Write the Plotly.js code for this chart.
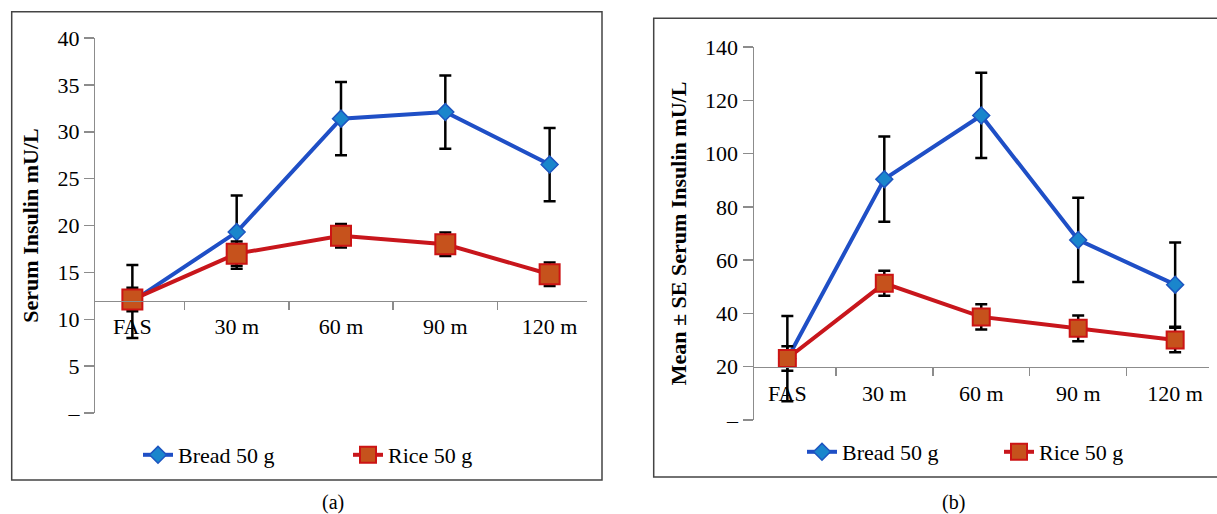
<!DOCTYPE html>
<html>
<head>
<meta charset="utf-8">
<script src="https://cdn.plot.ly/plotly-3.0.1.min.js"></script>
<style>
  html, body { margin: 0; padding: 0; background: #ffffff; }
  #chart { width: 1217px; height: 514px; }
</style>
</head>
<body>
<div id="chart"></div>
<script>
// ---- data ----
const categories = ["FAS", "30 m", "60 m", "90 m", "120 m"];
const seriesNames = ["Bread 50 g", "Rice 50 g"];

// panel (a): Serum insulin mU/L
const breadA = [11.9, 19.3, 31.4, 32.1, 26.5];
const breadAErr = [3.9, 3.9, 3.9, 3.9, 3.9];
const riceA = [12.1, 17.0, 18.9, 18.0, 14.8];
const riceAErr = [1.25, 1.3, 1.25, 1.25, 1.25];
const yTicksA = [0, 5, 10, 15, 20, 25, 30, 35, 40];
const yTickTextA = ["–", "5", "10", "15", "20", "25", "30", "35", "40"];
const crossA = 12;

// panel (b): Mean ± SE serum insulin mU/L
const breadB = [23.0, 90.4, 114.3, 67.6, 50.8];
const breadBErr = [16, 16, 16, 15.8, 15.8];
const riceB = [23.1, 51.3, 38.7, 34.4, 30.0];
const riceBErr = [4.6, 4.7, 4.7, 4.8, 4.6];
const yTicksB = [0, 20, 40, 60, 80, 100, 120, 140];
const yTickTextB = ["–", "20", "40", "60", "80", "100", "120", "140"];
const crossB = 20;

const titleA = "Serum Insulin mU/L";
const titleB = "Mean ± SE Serum Insulin mU/L";
const captions = ["(a)", "(b)"];

// ---- layout helpers (pixel -> paper) ----
const W = 1217, H = 514;
const fx = p => p / W;
const fy = p => 1 - p / H;

const FONT = "Liberation Serif";
const AXIS = "#8c8c8c";
const blueLine = "#1f4fc6", blueFill = "#1a86cc", blueEdge = "#1d55c0";
const redLine = "#c8161c", redFill = "#c6521c", redEdge = "#cc1414";

const xdA = [fx(95.3), fx(586.7)], ydA = [fy(413), fy(38)];
const xdB = [fx(754), fx(1208.5)], ydB = [fy(420), fy(47)];
const rangeA = [0, 40], rangeB = [0, 140];
const posA = ydA[0] + (crossA - rangeA[0]) / (rangeA[1] - rangeA[0]) * (ydA[1] - ydA[0]);
const posB = ydB[0] + (crossB - rangeB[0]) / (rangeB[1] - rangeB[0]) * (ydB[1] - ydB[0]);

function errBar(arr) {
  return { type: "data", array: arr, visible: true, color: "#000000", thickness: 2.5, width: 6 };
}

function series(y, err, name, isBread, xa, ya, leg, size) {
  return {
    type: "scatter", mode: "lines+markers", x: categories, y: y, name: name,
    xaxis: xa, yaxis: ya, legend: leg,
    line: { color: isBread ? blueLine : redLine, width: 4 },
    marker: isBread
      ? { symbol: "diamond", size: size, color: blueFill, line: { color: blueEdge, width: 1.5 } }
      : { symbol: "square", size: size, color: redFill, line: { color: redEdge, width: 2 } },
    error_y: errBar(err),
    hoverinfo: "x+y+name"
  };
}

const data = [
  series(breadA, breadAErr, seriesNames[0], true, "x", "y", "legend", 13),
  series(riceA, riceAErr, seriesNames[1], false, "x", "y", "legend", 20),
  series(breadB, breadBErr, seriesNames[0], true, "x2", "y2", "legend2", 13),
  series(riceB, riceBErr, seriesNames[1], false, "x2", "y2", "legend2", 17)
];

function xAxis(domain, pos) {
  return {
    domain: domain, anchor: "free", position: pos,
    type: "category", showline: true, linecolor: AXIS, linewidth: 1.5,
    ticks: "outside", tickson: "boundaries", ticklen: 8, tickwidth: 1.5, tickcolor: AXIS,
    ticklabelstandoff: 6,
    showgrid: false, zeroline: false, fixedrange: true,
    tickfont: { family: FONT, size: 22, color: "#000000" }
  };
}
function yAxis(domain, range, tv, tt, title, anchorX, standoff) {
  return {
    domain: domain, range: range, anchor: anchorX,
    tickmode: "array", tickvals: tv, ticktext: tt,
    showline: true, linecolor: AXIS, linewidth: 1.5,
    ticks: "outside", ticklen: 10, tickwidth: 1.5, tickcolor: AXIS,
    showgrid: false, zeroline: false, fixedrange: true,
    tickfont: { family: FONT, size: 22, color: "#000000" },
    title: { text: "<b>" + title + "</b>", font: { family: FONT, size: 22, color: "#000000" }, standoff: standoff }
  };
}

const layout = {
  width: W, height: H,
  margin: { l: 0, r: 0, t: 0, b: 0, pad: 0 },
  paper_bgcolor: "#ffffff", plot_bgcolor: "rgba(0,0,0,0)",
  showlegend: true,
  xaxis: xAxis(xdA, posA),
  yaxis: yAxis(ydA, rangeA, yTicksA, yTickTextA, titleA, "x", 12),
  xaxis2: xAxis(xdB, posB),
  yaxis2: yAxis(ydB, rangeB, yTicksB, yTickTextB, titleB, "x2", 12),
  legend: {
    orientation: "h", x: fx(138), y: fy(455), xanchor: "left", yanchor: "middle",
    font: { family: FONT, size: 22, color: "#000000" }, bgcolor: "rgba(0,0,0,0)",
    itemwidth: 30, entrywidthmode: "pixels", entrywidth: 165
  },
  legend2: {
    orientation: "h", x: fx(802), y: fy(452), xanchor: "left", yanchor: "middle",
    font: { family: FONT, size: 22, color: "#000000" }, bgcolor: "rgba(0,0,0,0)",
    itemwidth: 30, entrywidthmode: "pixels", entrywidth: 152
  },
  shapes: [
    { type: "rect", xref: "paper", yref: "paper", x0: fx(11.7), x1: fx(602), y0: fy(480), y1: fy(11.7),
      line: { color: "#444444", width: 1.5 }, fillcolor: "rgba(0,0,0,0)", layer: "below" },
    { type: "rect", xref: "paper", yref: "paper", x0: fx(653.7), x1: 1.02, y0: fy(477), y1: fy(18.3),
      line: { color: "#444444", width: 1.5 }, fillcolor: "rgba(0,0,0,0)", layer: "below" }
  ],
  annotations: [
    { text: captions[0], xref: "paper", yref: "paper", x: fx(333), y: fy(502), showarrow: false,
      xanchor: "center", yanchor: "middle", font: { family: FONT, size: 20, color: "#000000" } },
    { text: captions[1], xref: "paper", yref: "paper", x: fx(953), y: fy(502), showarrow: false,
      xanchor: "center", yanchor: "middle", font: { family: FONT, size: 20, color: "#000000" } }
  ]
};

Plotly.newPlot("chart", data, layout, { displayModeBar: false, staticPlot: true });
</script>
</body>
</html>
